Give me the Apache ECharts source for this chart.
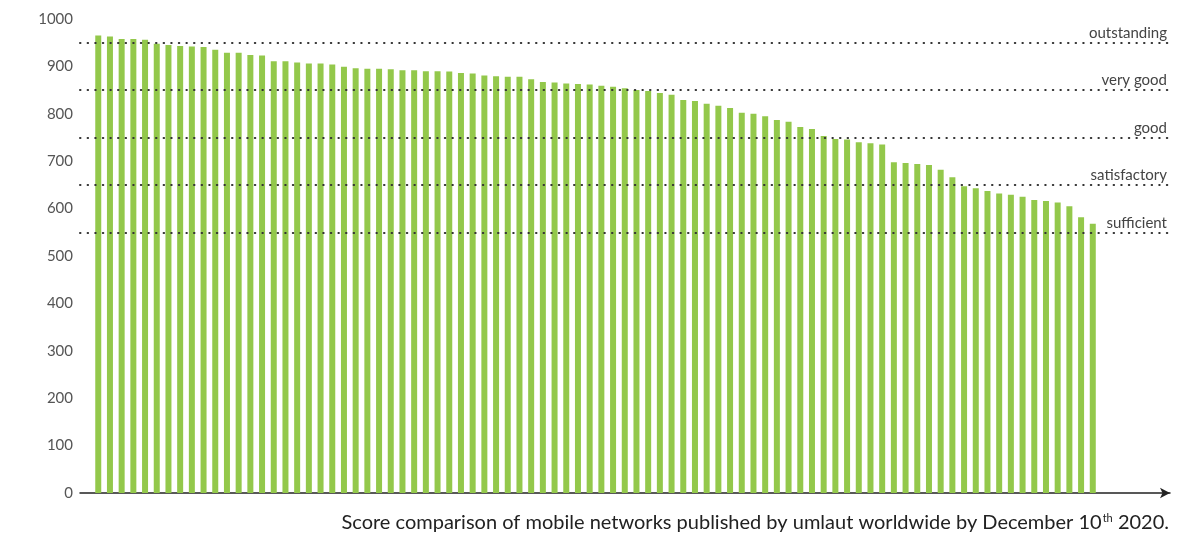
<!DOCTYPE html>
<html>
<head>
<meta charset="utf-8">
<script src="https://cdn.jsdelivr.net/npm/echarts@6/dist/echarts.min.js"></script>
<style>
html,body{margin:0;padding:0;background:#fff;}
#chart{width:1199px;height:533px;}
</style>
</head>
<body>
<div id="chart"></div>
<script>
// Scores of mobile networks (sorted)
const scores = [965, 963, 958, 958, 956, 948, 945, 943, 942, 941,
  935, 929, 929, 924, 923, 911, 911, 908, 906, 906,
  904, 899, 896, 895, 895, 894, 892, 892, 890, 890,
  889, 886, 885, 881, 879, 878, 878, 873, 867, 866,
  864, 863, 862, 859, 857, 854, 850, 848, 844, 840,
  829, 827, 821, 817, 812, 802, 800, 795, 787, 783,
  772, 768, 753, 747, 746, 740, 738, 735, 698, 696,
  694, 692, 682, 666, 647, 643, 637, 632, 629, 625,
  618, 616, 613, 605, 582, 568];
const ranks = scores.map((_, i) => i + 1);
const thresholdValues = [950, 850, 750, 650, 550];
const thresholdLabels = ['outstanding', 'very good', 'good', 'satisfactory', 'sufficient'];
const yTicks = [0, 100, 200, 300, 400, 500, 600, 700, 800, 900, 1000];

const FONT = 'Lato';
const chart = echarts.init(document.getElementById('chart'));
chart.setOption({
  animation: false,
  backgroundColor: '#fff',
  textStyle: { fontFamily: FONT },
  title: {
    text: '{a|Score comparison of mobile networks published by umlaut worldwide by December 10}{sup|th}{a| 2020.}',
    right: 30,
    bottom: 0,
    padding: 0,
    textStyle: {
      fontWeight: 'normal',
      rich: {
        a: { fontFamily: FONT, fontSize: 20, fontWeight: 'normal', color: '#222', lineHeight: 22, verticalAlign: 'bottom' },
        sup: { fontFamily: FONT, fontSize: 11, fontWeight: 'normal', color: '#222', lineHeight: 22, verticalAlign: 'top', padding: [2, 0, 0, 1] }
      }
    }
  },
  grid: { left: 80, right: 29, top: 19, bottom: 40, containLabel: false },
  xAxis: {
    type: 'value',
    min: -0.56,
    max: 92.6,
    axisLine: { show: true, lineStyle: { color: '#222', width: 1.5 }, symbol: ['none', 'arrow'], symbolSize: [8, 10] },
    axisTick: { show: false },
    axisLabel: { show: false },
    splitLine: { show: false }
  },
  yAxis: {
    type: 'value',
    min: yTicks[0],
    max: yTicks[yTicks.length - 1],
    interval: 100,
    axisLine: { show: false },
    axisTick: { show: false },
    splitLine: { show: false },
    axisLabel: { color: '#555', fontSize: 15, margin: 7, fontFamily: FONT, formatter: (v) => String(v) }
  },
  series: [{
    type: 'bar',
    barWidth: 6,
    data: ranks.map((r, i) => [r, scores[i]]),
    itemStyle: { color: '#93c84b' },
    markLine: {
      silent: true,
      symbol: ['none', 'none'],
      lineStyle: { color: '#333', type: [0.5, 7.1], width: 2, cap: 'round' },
      label: { position: 'insideEndTop', color: '#444', fontSize: 15, fontFamily: FONT, distance: [3, 2] },
      data: thresholdValues.map((v, i) => ({ yAxis: v, label: { formatter: thresholdLabels[i] } }))
    }
  }]
});
</script>
</body>
</html>
